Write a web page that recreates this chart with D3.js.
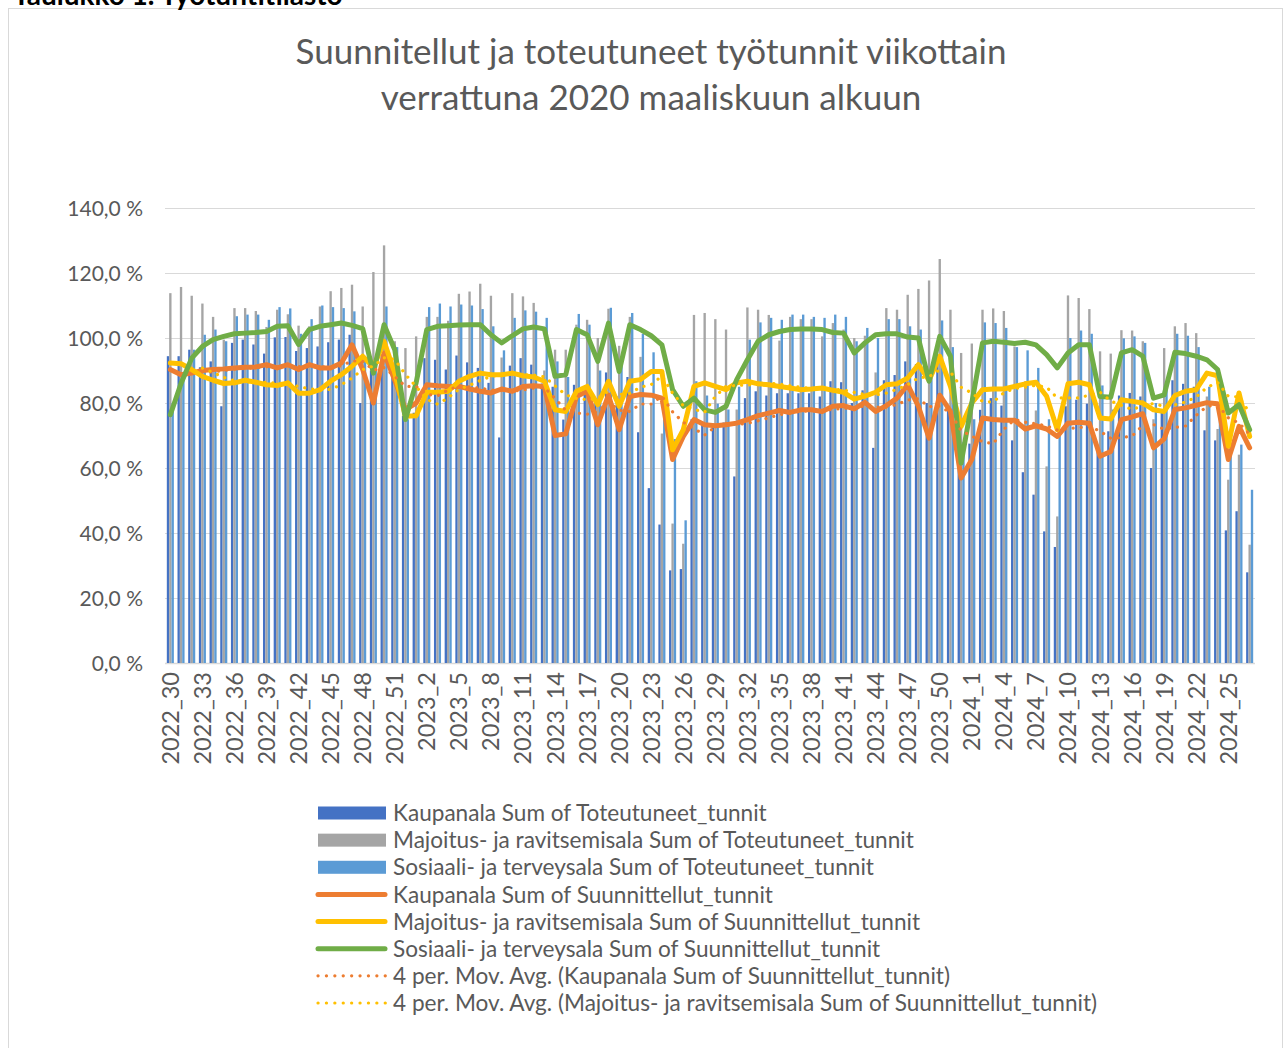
<!DOCTYPE html>
<html>
<head>
<meta charset="utf-8">
<script src="https://cdn.jsdelivr.net/npm/d3@7"></script>
<style>
  body { margin: 0; background: #fff; }
  #chart { width: 1284px; height: 1048px; }
  text { font-family: Lato, "Open Sans", sans-serif; }
</style>
</head>
<body>
<div id="chart"></div>
<script>
// viikot (x-akselin kategoriat)
var weeks = [
  "2022_30","2022_31","2022_32","2022_33","2022_34","2022_35","2022_36","2022_37","2022_38","2022_39",
  "2022_40","2022_41","2022_42","2022_43","2022_44","2022_45","2022_46","2022_47","2022_48","2022_49",
  "2022_50","2022_51","2022_52","2023_1","2023_2","2023_3","2023_4","2023_5","2023_6","2023_7",
  "2023_8","2023_9","2023_10","2023_11","2023_12","2023_13","2023_14","2023_15","2023_16","2023_17",
  "2023_18","2023_19","2023_20","2023_21","2023_22","2023_23","2023_24","2023_25","2023_26","2023_27",
  "2023_28","2023_29","2023_30","2023_31","2023_32","2023_33","2023_34","2023_35","2023_36","2023_37",
  "2023_38","2023_39","2023_40","2023_41","2023_42","2023_43","2023_44","2023_45","2023_46","2023_47",
  "2023_48","2023_49","2023_50","2023_51","2023_52","2024_1","2024_2","2024_3","2024_4","2024_5",
  "2024_6","2024_7","2024_8","2024_9","2024_10","2024_11","2024_12","2024_13","2024_14","2024_15",
  "2024_16","2024_17","2024_18","2024_19","2024_20","2024_21","2024_22","2024_23","2024_24","2024_25",
  "2024_26","2024_27"
];

// toteutuneet tunnit (pylväät), % maaliskuun 2020 alusta
var kaupTot = [
  94.4,94.4,96.4,91,92.8,79,98.5,99.5,98,95.2,100.2,100.3,96,96.9,97.4,98.7,99.5,101,80,90,
  95,92,76,77,93.8,93.3,90.3,94.6,92.5,90.8,86.2,69.4,91.5,93.8,91.8,86,85,74.9,85.6,85,
  80,89.4,82,88,71,53.8,42.6,28.5,28.9,75,74,73,74,57.4,81.5,83.6,82.3,83,83,83,
  83,82,86.7,86.4,80,83.9,66.2,87,88.6,92.8,92,80,95,78,62,67.5,77.9,81.5,79.2,68.5,
  58.7,51.8,40.5,35.7,79,81,79.8,66,71.3,82.3,83.1,82,60,78,87,85.9,85,71.6,68.5,40.8,
  46.7,27.9
];
var majTot = [
  113.8,115.7,113,110.6,106.5,99.5,109.2,109.2,108.3,103.4,108.7,107.3,103.8,103.6,109.7,114.4,115.4,116.4,109.7,120.3,
  128.5,99,96.9,100.5,106.5,106.5,105.3,113.6,114.3,116.7,113,94,113.8,112.8,110.8,90,96.4,96.4,104.1,105.6,
  100,109,97.6,106.5,94.2,80,70.6,42.9,36.7,107.1,107.7,105.8,102.6,78,109.4,108.7,107.1,99.2,106.5,105.8,
  105.8,100.5,104.6,102.6,100,100.7,89.4,109.2,108.7,113.3,115.1,117.7,124.3,108.7,95.4,98.3,108.7,109.1,108.3,97.4,
  86.7,77.7,60.5,45.1,113.1,112.3,108.9,95.9,95.2,102.4,102.3,99,75,96.9,103.6,104.6,101.5,82,72,56.4,
  64.1,36.4
];
var sosTot = [
  80,88,96.4,101,102.6,99,106.7,107.2,107.2,105.6,109.5,109.1,101.3,105.8,110,109.5,109.2,108.2,93,92,
  109.7,97.2,75,78,109.5,110.6,109.7,110.3,110,108.9,103.6,96.2,106.2,108.5,108.1,106.2,92.8,88,107.4,104.1,
  90,109.3,92,107.7,101.3,95.6,75,68.9,43.9,86.7,82.3,79.8,78,85,99.5,104.8,106.2,105.6,107.2,107.2,
  106.5,106.2,107.2,106.5,99,103.1,100,105.8,105.8,103.6,102.6,88,105.4,97.2,68,75,104.8,104.6,103.1,97.2,
  96.2,90.8,75,72,100,102.3,101.3,85.4,78,99.9,100.5,98.5,80,85,101.3,100.7,97.2,85,80,66,
  67.2,53.3
];

// suunnitellut tunnit (viivat)
var kaupSuun = [
  90.3,88.7,89.2,90,90.3,90.5,90.8,91,91.1,91.8,90.8,91.8,90.3,91.8,90.8,90.8,92.3,97.9,90.3,80,
  95.4,87,78,80,85.6,85.3,85.1,85.1,84.3,83.6,83.1,84.3,83.6,85.1,85.3,85.1,70,70.5,82,83.6,
  73.3,82.4,71.8,82,82.6,82.4,81.5,62.6,69.7,74.9,73.3,73,73.3,73.8,74.9,76.1,76.9,77.7,77.1,77.9,
  77.9,77.4,79,79.2,78.2,80.2,77.4,79.2,81.5,85.6,79,69.2,82.4,77.4,56.9,62.6,75.4,74.9,74.7,74.7,
  72,73,72,69.7,73.8,74.1,73.8,63.6,65.1,74.9,75.7,76.7,66.2,69,78,78.5,79.3,80.1,79.8,62.6,
  72.8,66.2
];
var majSuun = [
  92.3,92.1,90.3,88.2,87,86,86.2,87,86.4,85.6,85.4,86.2,83,83,84.1,86.7,88.7,91.3,94.4,91,
  99,89.2,75.9,76.1,83.3,83.3,83.6,86.7,88.2,89.2,88.7,88.7,89.2,88.4,88,86.7,77.9,77.4,83.6,85.1,
  79.5,86.7,79,86.7,87.2,89.7,89.7,65.6,71.8,85.1,86.2,85.1,84.1,86.2,86.7,85.9,85.6,85.1,84.6,84.1,
  84.3,84.6,83.9,83.3,81.2,82.1,83.3,85.6,85.9,87.7,91.8,87,94.4,85.1,72.8,80,84.1,84.3,84.3,85.1,
  85.9,86.4,82.1,71.8,85.9,86.4,85.6,75.4,75.1,81,80.5,80,77.9,77.4,82.3,83.6,84.1,89.2,88.4,66.7,
  83.1,69.7
];
var sosSuun = [
  76.4,86,93.8,97.4,99.5,100.5,101.3,101.5,101.7,102,103.6,103.8,98,102.6,103.6,104.1,104.6,103.9,102.9,89.2,
  104.1,96.4,74.9,86.2,102.6,103.6,103.8,104,104.1,104.1,101,98.5,100.7,102.8,103.4,102.8,88.2,88.7,102.6,101,
  92.8,104.6,89.7,104.1,102.6,100.7,97.9,84.1,79,81.5,77.9,77.1,79,87.2,93.3,99,101,102,102.6,102.8,
  102.8,102.6,101.7,101.5,95.4,98.5,101,101.3,101.3,100.3,100,86.7,100.5,94.4,61.5,80,98.5,99,98.7,98.3,
  98.7,97.9,94.9,90.8,95.4,97.9,97.9,82,81.8,95.4,96.4,94.4,81.5,82.5,95.6,95.2,94.4,93.3,90.3,76.9,
  79.5,71.8
];

var yTicks = [0, 20, 40, 60, 80, 100, 120, 140];

var legendLabels = [
  "Kaupanala Sum of Toteutuneet_tunnit",
  "Majoitus- ja ravitsemisala Sum of Toteutuneet_tunnit",
  "Sosiaali- ja terveysala Sum of Toteutuneet_tunnit",
  "Kaupanala Sum of Suunnittellut_tunnit",
  "Majoitus- ja ravitsemisala Sum of Suunnittellut_tunnit",
  "Sosiaali- ja terveysala Sum of Suunnittellut_tunnit",
  "4 per. Mov. Avg. (Kaupanala Sum of Suunnittellut_tunnit)",
  "4 per. Mov. Avg. (Majoitus- ja ravitsemisala Sum of Suunnittellut_tunnit)"
];

function movAvg(arr, n) {
    // Excel-tyylinen liukuva keskiarvo (trendiviiva)
    return arr.map(function(v, i) {
        return i < n - 1 ? null : d3.mean(arr.slice(i - n + 1, i + 1));
    });
}

function init() {
    var w = 1284, h = 1048;
    var svg = d3.select("#chart").append("svg")
                .attr("width", w)
                .attr("height", h);

    // kehys
    svg.append("rect")
        .attr("x", 8.5).attr("y", 8.5)
        .attr("width", 1274).attr("height", 1100)
        .attr("fill", "none")
        .attr("stroke", "#D9D9D9");

    // otsikko ylhäällä (leikkautunut kuten alkuperäisessä)
    svg.append("text")
        .attr("x", 13).attr("y", 5)
        .style("font-weight", "bold")
        .style("font-size", "28px")
        .attr("fill", "#000")
        .text("Taulukko 1. Työtuntitilasto");

    var title = svg.append("text")
        .attr("text-anchor", "middle")
        .attr("fill", "#595959")
        .style("font-size", "35px");
    title.append("tspan").attr("x", 651).attr("y", 64)
        .text("Suunnitellut ja toteutuneet työtunnit viikottain");
    title.append("tspan").attr("x", 651).attr("y", 110)
        .text("verrattuna 2020 maaliskuun alkuun");

    var x = d3.scaleBand()
              .domain(weeks)
              .range([165, 1255])
              .paddingInner(0.34)
              .paddingOuter(0.17);
    var xSub = d3.scaleBand()
                 .domain([0, 1, 2])
                 .range([0, x.bandwidth()]);
    var y = d3.scaleLinear()
              .domain([0, 140])
              .range([663, 208]);

    var fi = d3.formatLocale({decimal: ",", thousands: " ", grouping: [3], currency: ["", " €"]});
    var fmt = fi.format(".1f");

    // gridlines
    svg.append("g").selectAll("line")
        .data(yTicks)
        .enter()
        .append("line")
        .attr("x1", 165).attr("x2", 1255)
        .attr("y1", function(d) { return y(d) + 0.5; })
        .attr("y2", function(d) { return y(d) + 0.5; })
        .attr("stroke", "#D9D9D9")
        .attr("stroke-width", function(d) { return d === 0 ? 1.5 : 1; });

    // y axis labels
    svg.append("g").selectAll("text")
        .data(yTicks)
        .enter()
        .append("text")
        .attr("x", 143)
        .attr("y", function(d) { return y(d); })
        .attr("dy", "0.36em")
        .attr("text-anchor", "end")
        .attr("fill", "#595959")
        .style("font-size", "21px")
        .text(function(d) { return fmt(d) + " %"; });

    // x axis labels (every third week)
    svg.append("g").selectAll("text")
        .data(weeks.filter(function(d, i) { return i % 3 === 0; }))
        .enter()
        .append("text")
        .attr("transform", function(d) {
            return "translate(" + (x(d) + x.bandwidth() / 2) + ",672) rotate(-90)";
        })
        .attr("dy", "0.36em")
        .attr("text-anchor", "end")
        .attr("fill", "#595959")
        .style("font-size", "23.5px")
        .text(function(d) { return d; });

    // bars
    var barSeries = [
        {values: kaupTot, color: "#4472C4"},
        {values: majTot, color: "#A5A5A5"},
        {values: sosTot, color: "#5B9BD5"}
    ];
    barSeries.forEach(function(s, k) {
        svg.append("g").selectAll("rect")
            .data(s.values)
            .enter()
            .append("rect")
            .attr("x", function(d, i) { return x(weeks[i]) + xSub(k); })
            .attr("width", xSub.bandwidth())
            .attr("y", function(d) { return y(d); })
            .attr("height", function(d) { return y(0) - y(d); })
            .attr("fill", s.color);
    });

    var line = d3.line()
                 .defined(function(d) { return d !== null; })
                 .x(function(d, i) { return x(weeks[i]) + x.bandwidth() / 2; })
                 .y(function(d) { return y(d); });

    var lineSeries = [
        {values: kaupSuun, color: "#ED7D31"},
        {values: majSuun, color: "#FFC000"},
        {values: sosSuun, color: "#70AD47"}
    ];
    lineSeries.forEach(function(s) {
        svg.append("path")
            .attr("d", line(s.values))
            .attr("fill", "none")
            .attr("stroke", s.color)
            .attr("stroke-width", 5)
            .attr("stroke-linejoin", "round")
            .attr("stroke-linecap", "round");
    });

    // 4 per. liukuvat keskiarvot
    [{values: movAvg(kaupSuun, 4), color: "#ED7D31"},
     {values: movAvg(majSuun, 4), color: "#FFC000"}].forEach(function(s) {
        svg.append("path")
            .attr("d", line(s.values))
            .attr("fill", "none")
            .attr("stroke", s.color)
            .attr("stroke-width", 3.2)
            .attr("stroke-dasharray", "0.1 8")
            .attr("stroke-linecap", "round");
    });

    // legend
    var legend = svg.append("g");
    var ly = d3.scaleLinear().domain([0, 7]).range([813, 1003]);
    legendLabels.forEach(function(lab, i) {
        var cy = ly(i);
        if (i < 3) {
            legend.append("rect")
                .attr("x", 318).attr("y", cy - 6.5)
                .attr("width", 68).attr("height", 13)
                .attr("fill", barSeries[i].color);
        } else if (i < 6) {
            legend.append("line")
                .attr("x1", 318).attr("x2", 385)
                .attr("y1", cy).attr("y2", cy)
                .attr("stroke", lineSeries[i - 3].color)
                .attr("stroke-width", 5)
                .attr("stroke-linecap", "round");
        } else {
            legend.append("line")
                .attr("x1", 318).attr("x2", 386)
                .attr("y1", cy).attr("y2", cy)
                .attr("stroke", lineSeries[i - 6].color)
                .attr("stroke-width", 3.2)
                .attr("stroke-dasharray", "0.1 8.3")
                .attr("stroke-linecap", "round");
        }
        legend.append("text")
            .attr("x", 393).attr("y", cy)
            .attr("dy", "0.36em")
            .attr("fill", "#595959")
            .style("font-size", "22.6px")
            .text(lab);
    });
}

window.onload = init;
</script>
</body>
</html>
